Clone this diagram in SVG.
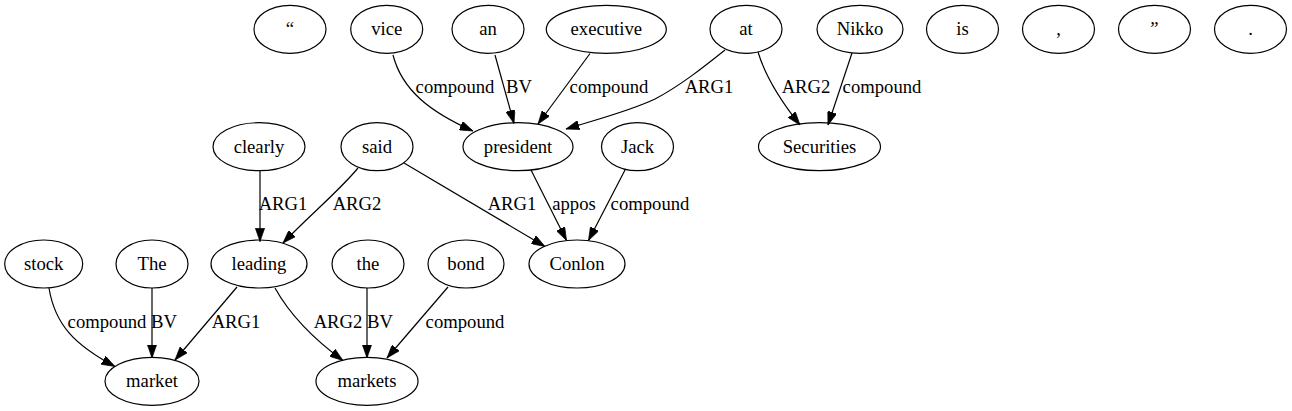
<svg xmlns="http://www.w3.org/2000/svg" width="1292" height="411" viewBox="0 0 1292 411">
<style>
.node ellipse{fill:none;stroke:#000;stroke-width:1.2}
.node text{font-family:"Liberation Serif","Times New Roman",serif;font-size:18.67px;text-anchor:middle;fill:#000}
.edges path{fill:none;stroke:#000;stroke-width:1.2}
.edges text{font-family:"Liberation Serif","Times New Roman",serif;font-size:18.67px;text-anchor:middle;fill:#000}
</style>
<defs>
<marker id="arr" viewBox="0 0 10 7" refX="10" refY="3.5" markerWidth="13.3" markerHeight="9.3" markerUnits="userSpaceOnUse" orient="auto">
<path d="M0,0 L10,3.5 L0,7 z" fill="#000" stroke="#000" stroke-width="0.5"/>
</marker>
</defs>
<rect width="1292" height="411" fill="#fff"/>
<g id="n_lquote" class="node"><ellipse cx="290" cy="29.3" rx="36" ry="24"/><text x="290" y="35.3">“</text></g>
<g id="n_vice" class="node"><ellipse cx="386.7" cy="29.3" rx="36" ry="24"/><text x="386.7" y="35.3">vice</text></g>
<g id="n_an" class="node"><ellipse cx="488" cy="29.3" rx="36" ry="24"/><text x="488" y="35.3">an</text></g>
<g id="n_executive" class="node"><ellipse cx="606.3" cy="29.3" rx="60" ry="24"/><text x="606.3" y="35.3">executive</text></g>
<g id="n_at" class="node"><ellipse cx="746" cy="29.3" rx="36" ry="24"/><text x="746" y="35.3">at</text></g>
<g id="n_nikko" class="node"><ellipse cx="860" cy="29.3" rx="43" ry="24"/><text x="860" y="35.3">Nikko</text></g>
<g id="n_is" class="node"><ellipse cx="962.5" cy="29.3" rx="36" ry="24"/><text x="962.5" y="35.3">is</text></g>
<g id="n_comma" class="node"><ellipse cx="1058.5" cy="29.3" rx="36" ry="24"/><text x="1058.5" y="35.3">,</text></g>
<g id="n_rquote" class="node"><ellipse cx="1154.5" cy="29.3" rx="36" ry="24"/><text x="1154.5" y="35.3">”</text></g>
<g id="n_period" class="node"><ellipse cx="1250.5" cy="29.3" rx="36" ry="24"/><text x="1250.5" y="35.3">.</text></g>
<g id="n_clearly" class="node"><ellipse cx="259" cy="146.7" rx="46" ry="24"/><text x="259" y="152.7">clearly</text></g>
<g id="n_said" class="node"><ellipse cx="377" cy="146.7" rx="36" ry="24"/><text x="377" y="152.7">said</text></g>
<g id="n_president" class="node"><ellipse cx="518" cy="146.7" rx="55" ry="24"/><text x="518" y="152.7">president</text></g>
<g id="n_jack" class="node"><ellipse cx="637.5" cy="146.7" rx="36" ry="24"/><text x="637.5" y="152.7">Jack</text></g>
<g id="n_securities" class="node"><ellipse cx="819.5" cy="146.7" rx="61" ry="24"/><text x="819.5" y="152.7">Securities</text></g>
<g id="n_stock" class="node"><ellipse cx="43.7" cy="264" rx="39" ry="24"/><text x="43.7" y="270">stock</text></g>
<g id="n_The" class="node"><ellipse cx="152" cy="264" rx="36" ry="24"/><text x="152" y="270">The</text></g>
<g id="n_leading" class="node"><ellipse cx="259" cy="264" rx="48" ry="24"/><text x="259" y="270">leading</text></g>
<g id="n_the" class="node"><ellipse cx="368" cy="264" rx="36" ry="24"/><text x="368" y="270">the</text></g>
<g id="n_bond" class="node"><ellipse cx="466" cy="264" rx="38" ry="24"/><text x="466" y="270">bond</text></g>
<g id="n_conlon" class="node"><ellipse cx="577" cy="264" rx="48" ry="24"/><text x="577" y="270">Conlon</text></g>
<g id="n_market" class="node"><ellipse cx="152" cy="381.3" rx="47" ry="24"/><text x="152" y="387.3">market</text></g>
<g id="n_markets" class="node"><ellipse cx="367" cy="381.3" rx="51" ry="24"/><text x="367" y="387.3">markets</text></g>
<g id="edges" class="edges">
<path d="M393,55 C402,90 430,112 473,131" marker-end="url(#arr)"/><text x="455" y="93">compound</text>
<path d="M495,55 L514,123.5" marker-end="url(#arr)"/><text x="519" y="93">BV</text>
<path d="M590,53.5 L538,124" marker-end="url(#arr)"/><text x="609" y="93">compound</text>
<path d="M725,50 C705,66 680,86 655,99 C630,111 595,120 566,129" marker-end="url(#arr)"/><text x="709" y="93">ARG1</text>
<path d="M758,52 C765,75 780,100 800,125" marker-end="url(#arr)"/><text x="806" y="93">ARG2</text>
<path d="M852,53 L828,125" marker-end="url(#arr)"/><text x="882" y="93">compound</text>
<path d="M260,170.5 L260,241.5" marker-end="url(#arr)"/><text x="283" y="210">ARG1</text>
<path d="M358,168 C340,190 310,215 283,243" marker-end="url(#arr)"/><text x="357" y="210">ARG2</text>
<path d="M404,163 L545,246.5" marker-end="url(#arr)"/><text x="512" y="210">ARG1</text>
<path d="M531,170 L566.5,240.5" marker-end="url(#arr)"/><text x="574" y="210">appos</text>
<path d="M625,170 L588.5,240.5" marker-end="url(#arr)"/><text x="650" y="210">compound</text>
<path d="M49,288 C55,325 75,345 115,366.5" marker-end="url(#arr)"/><text x="107" y="328">compound</text>
<path d="M152,288 L152,358" marker-end="url(#arr)"/><text x="164" y="328">BV</text>
<path d="M237,287 L175,360" marker-end="url(#arr)"/><text x="236" y="328">ARG1</text>
<path d="M275,288 C290,315 315,340 343,360.5" marker-end="url(#arr)"/><text x="338" y="328">ARG2</text>
<path d="M367,288 L367,358" marker-end="url(#arr)"/><text x="380" y="328">BV</text>
<path d="M448,287 L387,358" marker-end="url(#arr)"/><text x="465" y="328">compound</text>
</g>
</svg>
